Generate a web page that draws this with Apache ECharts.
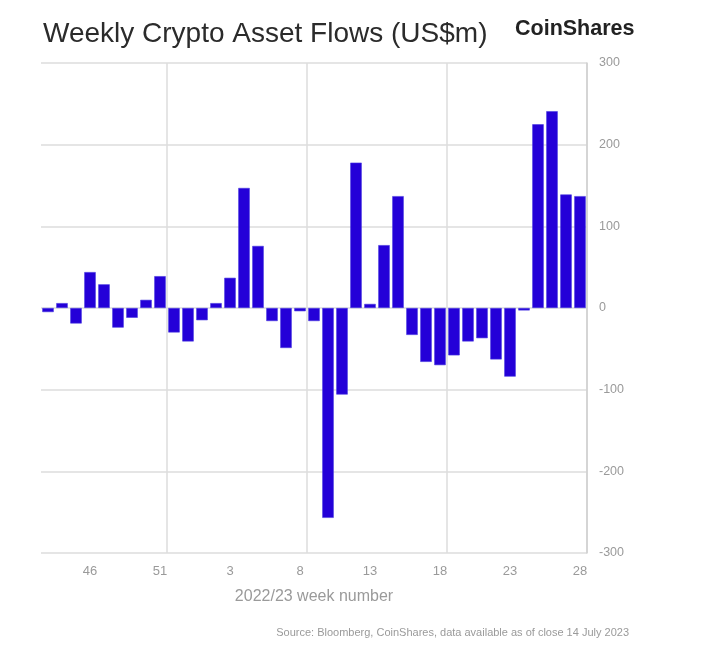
<!DOCTYPE html>
<html>
<head>
<meta charset="utf-8">
<script src="https://cdn.jsdelivr.net/npm/echarts@6/dist/echarts.min.js"></script>
<style>
	html, body { margin: 0; padding: 0; background: #fff; }
	#chart { width: 706px; height: 670px; }
</style>
</head>
<body>
<div id="chart"></div>
<script type="text/javascript">
	// week numbers, 2022 wk43 .. 2023 wk28
	var weeks = ['43', '44', '45', '46', '47', '48', '49', '50', '51', '52', '53',
		'1', '2', '3', '4', '5', '6', '7', '8', '9', '10', '11', '12', '13', '14',
		'15', '16', '17', '18', '19', '20', '21', '22', '23', '24', '25', '26', '27', '28'];
	// weekly flows, US$m
	var flows = [-5, 6, -19, 44, 29, -24, -12, 10, 39, -30, -41,
		-15, 6, 37, 147, 76, -16, -49, -4, -16, -257, -106, 178, 5,
		77, 137, -33, -66, -70, -58, -41, -37, -63, -84, -3, 225, 241, 139, 137];
	var yTicks = [-300, -200, -100, 0, 100, 200, 300];
	var shownLabels = ['46', '51', '3', '8', '13', '18', '23', '28'];

	var dom = document.getElementById("chart");
	var myChart = echarts.init(dom);
	var option = {
		backgroundColor: '#fff',
		textStyle: { fontFamily: 'Liberation Sans' },
		title: [{
			text: 'Weekly Crypto Asset Flows (US$m)',
			left: 38,
			top: 15,
			textStyle: { fontSize: 28, fontWeight: 'normal', color: '#2b2b2b', fontFamily: 'Liberation Sans' }
		}, {
			text: 'CoinShares',
			left: 510,
			top: 13,
			textStyle: { fontSize: 21.5, fontWeight: 'bold', color: '#222', fontFamily: 'Liberation Sans' }
		}, {
			text: 'Source: Bloomberg, CoinShares, data available as of close 14 July 2023',
			right: 72,
			top: 622,
			textStyle: { fontSize: 11, fontWeight: 'normal', color: '#9a9a9a', fontFamily: 'Liberation Sans' }
		}],
		grid: {
			left: 41,
			right: 119,
			top: 63,
			bottom: 117,
			containLabel: false
		},
		xAxis: {
			type: 'category',
			data: weeks,
			position: 'bottom',
			name: '2022/23 week number',
			nameLocation: 'middle',
			nameGap: 36,
			nameTextStyle: { fontSize: 16, color: '#9a9a9a' },
			axisLine: { show: false, onZero: false },
			axisTick: { show: false },
			axisLabel: {
				interval: function (index, value) {
					return shownLabels.indexOf(value) >= 0 && (index > 10 || Number(value) > 40);
				},
				fontSize: 13,
				color: '#9a9a9a',
				margin: 12
			},
			splitLine: {
				show: true,
				interval: function (index) {
					return index === 9 || index === 19 || index === 29;
				},
				lineStyle: { color: '#dcdcdc', width: 1.5 }
			}
		},
		yAxis: {
			type: 'value',
			position: 'right',
			min: yTicks[0],
			max: yTicks[yTicks.length - 1],
			interval: 100,
			axisLine: { show: true, lineStyle: { color: '#cfcfcf', width: 1.5 } },
			axisTick: { show: false },
			axisLabel: { fontSize: 12.5, color: '#9a9a9a', margin: 12 },
			splitLine: { lineStyle: { color: '#dcdcdc', width: 1.5 } }
		},
		series: [{
			name: 'Flows',
			type: 'bar',
			data: flows,
			barCategoryGap: '18%',
			itemStyle: { color: '#2400d8', borderColor: '#4a3ae0', borderWidth: 0.6 }
		}]
	};
	myChart.setOption(option, true);
</script>
</body>
</html>
